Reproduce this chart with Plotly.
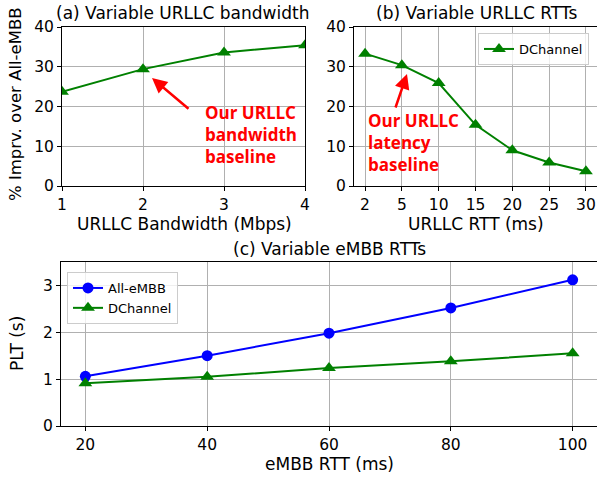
import plotly.graph_objects as go

W, H = 597, 478

# Panel (a)
bw_x = [1, 2, 3, 4]
bw_dchannel = [23.7, 29.4, 33.6, 35.4]

# Panel (b)
rtt_labels = ["2", "5", "10", "15", "20", "25", "30"]
rtt_dchannel = [33.3, 30.4, 25.9, 15.4, 9.0, 5.9, 3.7]

# Panel (c)
embb_x = [20, 40, 60, 80, 100]
embb_all = [1.06, 1.50, 1.98, 2.52, 3.12]
embb_dchannel = [0.91, 1.05, 1.24, 1.38, 1.55]

GREEN = "#008000"
BLUE = "#0000ff"
FONT = "DejaVu Sans"


def px(x):
    return x / W


def py(y):
    return 1 - y / H


fig = go.Figure()

fig.add_trace(go.Scatter(x=bw_x, y=bw_dchannel, mode="lines+markers", name="DChannel",
                         line=dict(color=GREEN, width=2),
                         marker=dict(symbol="triangle-up", size=12, color=GREEN),
                         xaxis="x", yaxis="y", legend="legend"))
fig.add_trace(go.Scatter(x=list(range(len(rtt_labels))), y=rtt_dchannel, mode="lines+markers", name="DChannel",
                         line=dict(color=GREEN, width=2),
                         marker=dict(symbol="triangle-up", size=12, color=GREEN),
                         xaxis="x2", yaxis="y2", legend="legend2"))
fig.add_trace(go.Scatter(x=embb_x, y=embb_all, mode="lines+markers", name="All-eMBB",
                         line=dict(color=BLUE, width=2),
                         marker=dict(symbol="circle", size=11, color=BLUE),
                         xaxis="x3", yaxis="y3", legend="legend3"))
fig.add_trace(go.Scatter(x=embb_x, y=embb_dchannel, mode="lines+markers", name="DChannel",
                         line=dict(color=GREEN, width=2),
                         marker=dict(symbol="triangle-up", size=12, color=GREEN),
                         xaxis="x3", yaxis="y3", legend="legend3"))

axis_common = dict(showline=True, mirror=True, linecolor="black", linewidth=1,
                   showgrid=True, gridcolor="#b0b0b0", gridwidth=1,
                   ticks="outside", ticklen=4, tickcolor="black",
                   tickfont=dict(family=FONT, size=15.5, color="black"),
                   zeroline=False, automargin=False)

legend_common = dict(bgcolor="rgba(255,255,255,0.8)", bordercolor="#cccccc", borderwidth=1,
                     font=dict(family=FONT, size=13, color="black"))

fig.update_layout(
    width=W, height=H,
    margin=dict(l=0, r=0, t=0, b=0, autoexpand=False),
    paper_bgcolor="white", plot_bgcolor="white",
    xaxis=dict(domain=[px(62), px(305)], range=[1, 4], tickvals=[1, 2, 3, 4],
               anchor="y", **axis_common),
    yaxis=dict(domain=[py(186), py(27)], range=[0, 40], tickvals=[0, 10, 20, 30, 40],
               anchor="x", **axis_common),
    xaxis2=dict(domain=[px(354), 1.0], range=[-0.3, 6.3],
                tickvals=list(range(len(rtt_labels))), ticktext=rtt_labels,
                anchor="y2", **axis_common),
    yaxis2=dict(domain=[py(186), py(27)], range=[0, 40], tickvals=[0, 10, 20, 30, 40],
                anchor="x2", **axis_common),
    xaxis3=dict(domain=[px(61), 1.0], range=[16, 104], tickvals=embb_x,
                anchor="y3", **axis_common),
    yaxis3=dict(domain=[py(426), py(262)], range=[0, 3.5], tickvals=[0, 1, 2, 3],
                anchor="x3", **axis_common),
    legend=dict(x=px(68), y=py(156), xanchor="left", yanchor="top", **legend_common),
    legend2=dict(x=px(589), y=py(33), xanchor="right", yanchor="top", **legend_common),
    legend3=dict(x=px(67), y=py(272), xanchor="left", yanchor="top", tracegroupgap=0, **legend_common),
)

txt = dict(family=FONT, size=17, color="black")
annots = [
    dict(text="(a) Variable URLLC bandwidth", x=px(182), y=py(13)),
    dict(text="(b) Variable URLLC RTTs", x=px(476), y=py(13)),
    dict(text="(c) Variable eMBB RTTs", x=px(330), y=py(249)),
    dict(text="URLLC Bandwidth (Mbps)", x=px(184), y=py(224)),
    dict(text="URLLC RTT (ms)", x=px(476), y=py(224)),
    dict(text="eMBB RTT (ms)", x=px(330), y=py(464)),
    dict(text="% Imprv. over All-eMBB", x=px(15), y=py(104), textangle=-90,
         font=dict(family=FONT, size=16.5, color="black")),
    dict(text="PLT (s)", x=px(17), y=py(344), textangle=-90),
]
for a in annots:
    f = a.pop("font", txt)
    fig.add_annotation(xref="paper", yref="paper", xanchor="center", yanchor="middle",
                       showarrow=False, font=f, **a)

red_font = dict(family="Open Sans", size=17, color="#ff0000")
fig.add_annotation(xref="paper", yref="paper", x=px(203), y=py(99), xanchor="left", yanchor="top",
                   text="<b>Our URLLC<br>bandwidth<br>baseline</b>", align="left",
                   showarrow=False, font=red_font)
fig.add_annotation(xref="paper", yref="paper", x=px(366), y=py(107), xanchor="left", yanchor="top",
                   text="<b>Our URLLC<br>latency<br>baseline</b>", align="left",
                   showarrow=False, font=red_font)

# arrows
fig.add_annotation(xref="paper", yref="paper", x=px(152), y=py(78), ax=38, ay=32,
                   text="", showarrow=True, arrowhead=2, arrowsize=1.2, arrowwidth=2.5,
                   arrowcolor="#ff0000")
fig.add_annotation(xref="paper", yref="paper", x=px(407), y=py(74), ax=-12, ay=35,
                   text="", showarrow=True, arrowhead=2, arrowsize=1.2, arrowwidth=2.5,
                   arrowcolor="#ff0000")

fig.write_html("out.html", config={"displayModeBar": False},
               post_script="document.body.style.margin='0';document.body.style.overflow='hidden';")
